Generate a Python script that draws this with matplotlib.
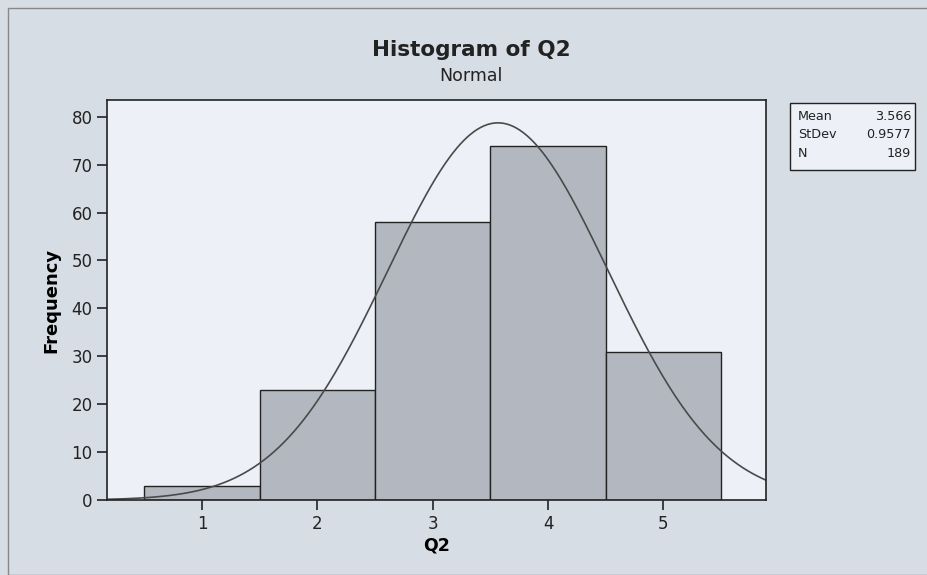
import numpy as np
import matplotlib
matplotlib.use('Agg')
import matplotlib.pyplot as plt
from matplotlib.patches import Rectangle

# data
bins = [1, 2, 3, 4, 5]
counts = [3, 23, 58, 74, 31]
mean, sd, n = 3.566, 0.9577, 189
stat_labels = ['Mean', 'StDev', 'N']
stat_values = ['3.566', '0.9577', '189']

bg = '#d7dde5'
plt.rcParams['font.family'] = 'DejaVu Sans'

fig = plt.figure(figsize=(9.27, 5.75), dpi=100, facecolor=bg)
ax = fig.add_axes([0.1154, 0.1304, 0.7109, 0.6957])
ax.set_facecolor('#edf0f6')

ax.bar(bins, counts, width=1.0, color='#b3b8c0', edgecolor='#222222', linewidth=1.0)

# fitted normal curve, scaled to counts (bin width 1)
x = np.linspace(0.18, 5.89, 400)
y = n / (sd * np.sqrt(2 * np.pi)) * np.exp(-0.5 * ((x - mean) / sd) ** 2)
ax.plot(x, y, color='#4a4a4a', linewidth=1.2)

ax.set_xlim(0.176, 5.89)
ax.set_ylim(0, 83.5)
ax.set_xticks(bins)
ax.set_yticks(range(0, 81, 10))
ax.tick_params(labelsize=12, colors='#222222', length=7, width=1.2)
for s in ax.spines.values():
    s.set_linewidth(1.2)
    s.set_color('#222222')

ax.set_xlabel('Q2', fontsize=12.5, fontweight='bold', labelpad=3)
ax.set_ylabel('Frequency', fontsize=13, fontweight='bold', labelpad=8)

fig.text(0.508, 1 - 50 / 575, 'Histogram of Q2', ha='center', va='center',
         fontsize=15.5, fontweight='bold', color='#222222')
fig.text(0.508, 1 - 76 / 575, 'Normal', ha='center', va='center', fontsize=12.5, color='#222222')

# stats box
fig.patches.append(Rectangle((790 / 927, 1 - 170 / 575), 125 / 927, 67 / 575,
                             transform=fig.transFigure, facecolor='#edf0f6',
                             edgecolor='#222222', linewidth=1.0))
for i, (lab, val) in enumerate(zip(stat_labels, stat_values)):
    yy = 1 - (116 + i * 19) / 575
    fig.text(798 / 927, yy, lab, fontsize=9.2, va='center', color='#222222')
    fig.text(911 / 927, yy, val, fontsize=9.2, va='center', ha='right', color='#222222')

# outer frame
fig.patches.append(Rectangle((8 / 927, 0), 1, 1 - 8 / 575, transform=fig.transFigure,
                             facecolor='none', edgecolor='#888888', linewidth=1.0))

fig.savefig('out.png', dpi=100, facecolor=bg)
